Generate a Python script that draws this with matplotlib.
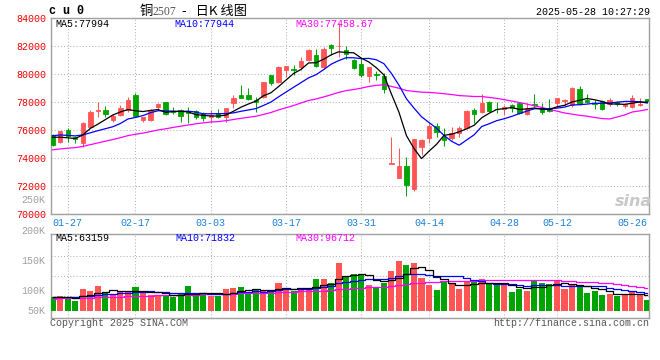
import numpy as np
import pandas as pd
import matplotlib
matplotlib.use('Agg')
import matplotlib.pyplot as plt

# daily bars of cu0, 2025-01-23 .. 2025-05-28 (exchange holidays removed)
holidays = ['2025-01-28', '2025-01-29', '2025-01-30', '2025-01-31', '2025-02-03',
            '2025-02-04', '2025-04-04', '2025-05-01', '2025-05-02', '2025-05-05']
dates = pd.bdate_range('2025-01-23', '2025-05-28').difference(pd.to_datetime(holidays))

opens = [75650, 75190, 76030, 75500, 75100, 76220, 77400, 77440, 76730, 77080,
         77420, 78520, 76720, 76730, 77660, 78020, 77390, 77440, 77310, 77350,
         77200, 76950, 77250, 76970, 77920, 78510, 78510, 78150, 78400, 79930,
         79460, 80290, 80360, 80530, 81000, 81360, 80530, 82070, 82000, 81720,
         81000, 80740, 79880, 80000, 79880, 73620, 72620, 73450, 71810, 74790,
         75480, 76310, 75550, 75480, 75830, 76140, 77450, 77340, 78050, 77540,
         77520, 77790, 77980, 77190, 77860, 77620, 77550, 77950, 78100, 77790,
         78930, 78190, 77950, 78100, 77900, 78050, 77760, 77670, 77790, 78210]
highs = [75730, 75950, 76130, 75600, 76600, 77450, 78030, 77730, 77160, 77800,
         78400, 78680, 76950, 77550, 77920, 78020, 77700, 77550, 77650, 77450,
         77300, 77450, 77500, 77560, 78510, 79270, 78990, 78390, 79460, 79980,
         80600, 80620, 80700, 81240, 81830, 81830, 81950, 82140, 83650, 82020,
         81120, 81140, 80520, 80260, 80070, 75550, 74710, 74120, 75400, 75380,
         76500, 76500, 76140, 76210, 76310, 77450, 77570, 78590, 78120, 78050,
         77810, 77900, 78030, 77980, 78570, 77980, 78210, 78310, 78210, 79100,
         79140, 78620, 78190, 78190, 78330, 78080, 77950, 78500, 78330, 78260]
lows = [74870, 75110, 75200, 75120, 74800, 76150, 76960, 76920, 76600, 77020,
        77300, 76960, 76600, 76650, 77550, 77100, 77150, 76560, 76550, 76800,
        76700, 76620, 76900, 76620, 77560, 78300, 78150, 77280, 78280, 79270,
        79350, 79820, 79940, 80290, 80930, 80530, 80410, 81360, 81240, 81120,
        80400, 79790, 79480, 79600, 78690, 73600, 72600, 71330, 71690, 74240,
        75120, 75550, 74880, 75300, 75550, 76070, 76550, 77210, 77330, 77260,
        77100, 77310, 77200, 77070, 77660, 77190, 77310, 77660, 77710, 77700,
        77830, 77950, 77500, 77480, 77710, 77710, 77590, 77620, 77740, 78020]
closes = [74950, 75940, 75560, 75370, 76510, 77300, 77450, 77200, 77020, 77590,
          78150, 77020, 76920, 77420, 77890, 77170, 77290, 76990, 77230, 76950,
          76870, 77080, 76950, 77560, 78320, 78330, 78230, 77990, 79450, 79410,
          80530, 80570, 80320, 80930, 81710, 80600, 81830, 81880, 82020, 81480,
          80460, 79950, 80500, 79950, 78930, 73660, 73450, 72100, 75380, 75310,
          76310, 75900, 75310, 75790, 76140, 77400, 77170, 77980, 77400, 77500,
          77690, 77600, 77240, 77620, 77810, 77310, 77380, 78290, 78140, 79000,
          77900, 78020, 77860, 77500, 78140, 77860, 77900, 78290, 77900, 78100]
# volume in thousand lots
volumes = [57.4, 63, 57.4, 42, 92.4, 84, 105, 74.2, 71.4, 77,
           84, 100.8, 74.2, 65.8, 65.8, 60.2, 57.4, 71.4, 105, 65.8,
           65.8, 63, 63, 92.4, 96.6, 100.8, 74.2, 85.4, 88.2, 88.2,
           117.6, 88.2, 84, 92.4, 89.6, 134.4, 134.4, 116.2, 201.6, 141.4,
           155.4, 151.2, 109.2, 93.8, 114.8, 168, 210, 193.2, 201.6, 138.6,
           109.2, 88.2, 126, 114.8, 92.4, 119, 119, 134.4, 110.6, 106.4,
           106.4, 79.8, 92.4, 84, 130.2, 117.6, 110.6, 126, 92.4, 113.4,
           106.4, 75.6, 84, 67.2, 71.4, 63, 67.2, 77, 71.4, 46.2]

# sessions before the window, only needed to start the moving averages
prior_closes = [73900, 74050, 74200, 73850, 73600, 73700, 73500, 73450, 73600, 73800,
                74100, 74350, 74200, 74500, 74650, 74300, 74400, 74600, 74550, 74700,
                75400, 75900, 75700, 75800, 75830, 75900, 75800, 75600, 75260]
prior_volumes = [45, 52, 48, 40, 55, 50, 43, 47, 52, 38, 44, 50, 56, 49, 46,
                 53, 51, 47, 50, 53, 50, 56, 52, 54, 53, 62, 58, 61, 57]

tick_labels = ['01-27', '02-17', '03-03', '03-17', '03-31', '04-14', '04-28', '05-12', '05-26']
grid_labels = tick_labels[:-1]

RED = '#ff5555'
GREEN = '#00a400'
FRAME = '#a0a0a0'
GRID = '#b4b4b4'

plt.rcParams['font.family'] = ['Liberation Mono', 'DejaVu Sans Mono']
plt.rcParams['font.size'] = 7.2

o = np.array(opens, float)
h = np.array(highs, float)
l = np.array(lows, float)
c = np.array(closes, float)
v = np.array(volumes, float)
n = len(c)
x = np.arange(n)
labels = dates.strftime('%m-%d').tolist()
tick_pos = [labels.index(s) for s in tick_labels]
grid_pos = [labels.index(s) for s in grid_labels]

all_c = pd.Series(prior_closes + closes, dtype=float)
all_v = pd.Series(prior_volumes + volumes, dtype=float)
ma = {k: all_c.rolling(k).mean().values[-n:] for k in (5, 10, 30)}
vma = {k: all_v.rolling(k).mean().values[-n:] for k in (5, 10, 30)}
ma_colors = {5: 'black', 10: '#0000ff', 30: '#ff00ff'}

W, H = 660, 360


def box(x0, y0, x1, y1):
    return [x0 / W, 1 - y1 / H, (x1 - x0) / W, (y1 - y0) / H]


def put(px, py, s, **kw):
    fig.text(px / W, 1 - py / H, s, **kw)


fig = plt.figure(figsize=(W / 100, H / 100), dpi=100)
ax = fig.add_axes(box(50.7, 18.3, 649.3, 214.3))
axv = fig.add_axes(box(50.7, 234.3, 649.3, 318.3))

up = c >= o
cols = np.where(up, RED, GREEN)

# candles
ax.vlines(x, l, h, colors=cols, lw=0.75, zorder=3)
ax.bar(x, np.abs(c - o), bottom=np.minimum(o, c), width=0.58, color=cols,
       edgecolor=cols, linewidth=0.6, zorder=3)
for k in (30, 10, 5):
    ax.plot(x, ma[k], color=ma_colors[k], lw=0.9, zorder=4)

# volume
axv.bar(x, v, width=0.8, color=cols, linewidth=0, zorder=3)
for k in (30, 10, 5):
    axv.plot(x, vma[k], color=ma_colors[k], lw=0.9, drawstyle='steps-mid', zorder=4)

step = 7.527
for a in (ax, axv):
    a.set_xlim(-2.0 / step, n - 1 + 2.0 / step)
    for s in a.spines.values():
        s.set_color(FRAME)
        s.set_linewidth(1)
    for p in grid_pos:
        a.axvline(p, color=GRID, lw=0.75, ls=(0, (1, 2)), zorder=1)

ax.set_ylim(70000, 84000)
ax.set_yticks(range(70000, 84001, 2000))
ax.grid(axis='y', color=GRID, lw=0.75, ls=(0, (1, 2)), zorder=1)
ax.tick_params(axis='y', length=0, pad=3.2, labelcolor='#ee0000')
ax.set_xticks(tick_pos, tick_labels)
ax.tick_params(axis='x', length=0, pad=2.5, labelcolor='#1a80dd')

axv.set_ylim(-31.9, 320.9)
axv.set_xticks([])
axv.set_yticks([])
for f in (0.269, 0.507, 0.745):
    axv.plot([0, 1], [f, f], transform=axv.transAxes, color=GRID, lw=0.75,
             ls=(0, (1, 2)), zorder=1)

# header and captions
put(49, 11.5, 'c u 0', fontsize=8.5, fontweight='bold', va='center')
put(140, 11.5, '铜', fontsize=9.5, va='center', family=['Noto Sans CJK SC'])
put(152.5, 11.8, '2507', fontsize=8.5, va='center', color='#555555',
    family=['Liberation Serif', 'DejaVu Serif'])
put(182, 11.5, '-   日K 线图', fontsize=9.5, va='center',
    family=['Noto Sans CJK SC', 'DejaVu Sans'])
put(649.5, 11.7, '2025-05-28 10:27:29', ha='right', va='center')

put(55, 24, 'MA5:77994', color='black', va='center')
put(174, 24, 'MA10:77944', color='#0000ff', va='center')
put(295, 24, 'MA30:77458.67', color='#ff00ff', va='center')

put(55, 238.3, 'MA5:63159', color='black', va='center')
put(175, 238.3, 'MA10:71832', color='#0000ff', va='center')
put(295, 238.3, 'MA30:96712', color='#ff00ff', va='center')

for yy, s in [(200.3, '250K'), (230.7, '200K'), (260.7, '150K'), (290.7, '100K'), (310.7, '50K')]:
    put(45.5, yy, s, color='#a0a0a0', ha='right', va='center')

put(50, 323.5, 'Copyright 2025 SINA.COM', color='#555555', va='center')
put(649.5, 323.5, 'http://finance.sina.com.cn', color='#555555', ha='right', va='center')

put(652, 201, 'sina', color='#c8c8c8', ha='right', va='center', fontsize=11.5,
    fontweight='bold', style='italic', family=['DejaVu Sans'])

fig.savefig('out.png', dpi=100)
